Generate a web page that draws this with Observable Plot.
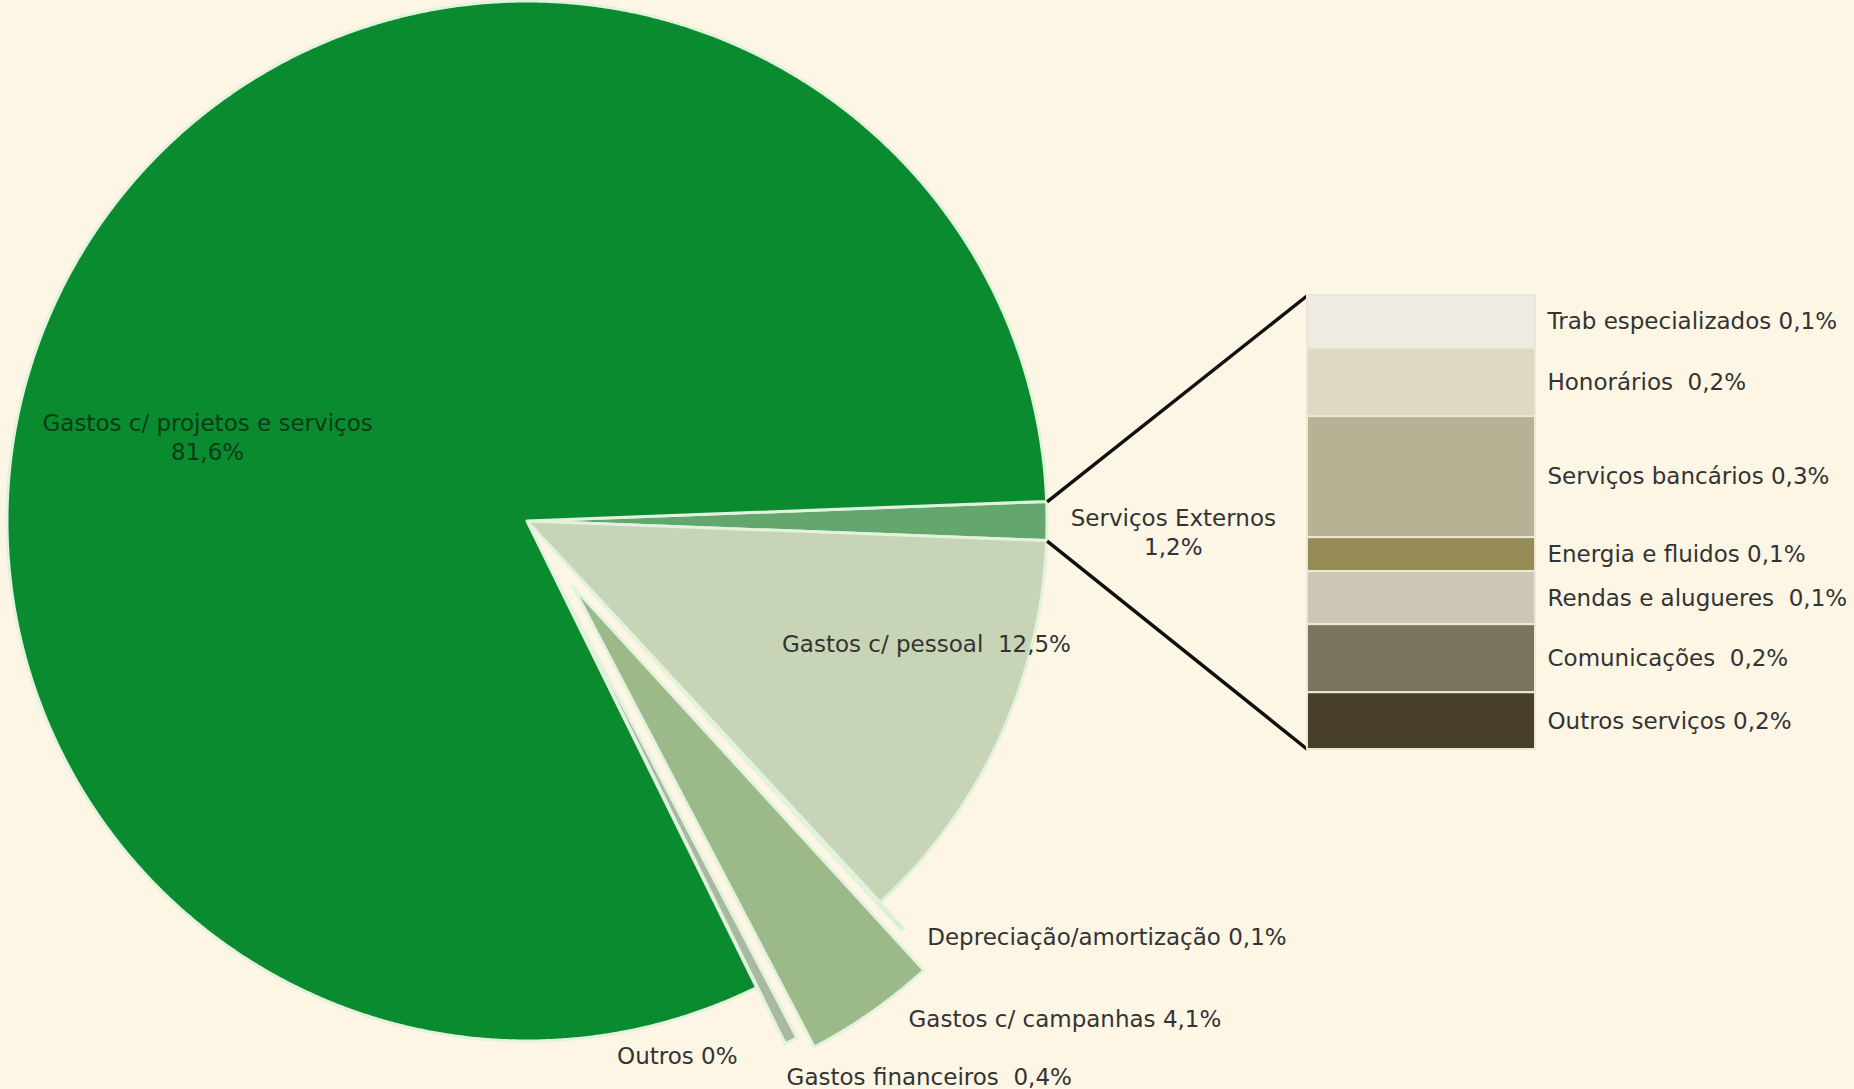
<!DOCTYPE html>
<html><head><meta charset="utf-8">
<script src="https://cdn.jsdelivr.net/npm/d3@7"></script>
<script src="https://cdn.jsdelivr.net/npm/@observablehq/plot@0.6"></script>
<style>
html,body{margin:0;padding:0;background:#FDF6E5;}
#chart{position:relative;width:1854px;height:1089px;overflow:hidden;}
#chart svg{position:absolute;left:0;top:0;background:transparent;max-width:none;}
svg text{white-space:pre;}
</style></head><body><div id="chart"></div>
<script>
// ---------- DATA ----------
const pieCategories = ["Serviços Externos","Gastos c/ pessoal","Depreciação/amortização","Gastos c/ campanhas","Gastos financeiros","Outros","Gastos c/ projetos e serviços"];
const pieValues = [1.2, 12.5, 0.1, 4.1, 0.4, 0, 81.6];
const pieLabelSeparators = ["\n", "  ", " ", " ", "  ", " ", "\n"];

const barCategories = ["Trab especializados","Honorários","Serviços bancários","Energia e fluidos","Rendas e alugueres","Comunicações","Outros serviços"];
const barValues = [0.14, 0.18, 0.32, 0.09, 0.14, 0.18, 0.15];   // sizes
const barShown  = [0.1, 0.2, 0.3, 0.1, 0.1, 0.2, 0.2];          // printed percentages
const barLabelSeparators = [" ", "  ", " ", " ", "  ", "  ", " "];

// ---------- STYLE / LAYOUT ----------
const W = 1854, H = 1089;
const CX = 527, CY = 521, R = 520;
const BAR_X0 = 1307, BAR_X1 = 1535, BAR_Y0 = 295, BAR_Y1 = 749;
const pieColors = ["#63A76F","#C7D4B5","#7E9E80","#9CB98A","#A9B8A0","#C9CFC0","#0B8B30"];
const pieExplode = [0, 0, 35, 80, 63, 63, 0];
const pieLabelLayout = [
  {f:1.242, dx:0,    dy:9.5, anchor:"middle"},
  {f:0.8,   dx:21,   dy:-52, anchor:"middle"},
  {f:1,     dx:24,   dy:5.5, anchor:"start"},
  {f:1,     dx:36.5, dy:5,   anchor:"start"},
  {f:1,     dx:-5,   dy:35,  anchor:"start"},
  {f:1,     dx:-47.5,dy:10,  anchor:"end"},
  {f:0.62,  dx:-43,  dy:80,  anchor:"middle"}
];
const barColors = ["#EEECE2","#DFD9C4","#B8B294","#958D55","#CCC6B4","#7A745F","#473F28"];
const FONT = "DejaVu Sans", FS = 23, TEXT = "#333333";
const fmt = v => String(v).replace(".", ",") + "%";

// ---------- PIE ----------
const total = d3.sum(pieValues);
const seSpan = pieValues[0] / total * 2 * Math.PI;
const a0 = Math.PI / 2 - seSpan / 2;
const arcs = d3.pie().sort(null).startAngle(a0).endAngle(a0 + 2 * Math.PI)(pieValues);

const wedgePoints = [];
const pieLabels = [];
arcs.forEach((a, i) => {
  const mid = (a.startAngle + a.endAngle) / 2;
  const e = pieExplode[i] / R;
  const ox = e * Math.sin(mid), oy = -e * Math.cos(mid);
  const L = pieLabelLayout[i];
  pieLabels.push({
    text: pieCategories[i] + pieLabelSeparators[i] + fmt(pieValues[i]),
    x: (e + L.f) * Math.sin(mid) + L.dx / R,
    y: -(e + L.f) * Math.cos(mid) + L.dy / R,
    anchor: L.anchor,
    color: i === 6 ? "#083C16" : TEXT
  });
  const span = a.endAngle - a.startAngle;
  if (span <= 0) return;
  const n = Math.max(2, Math.ceil(span / (Math.PI / 720)));
  for (let k = 0; k <= n; k++) {
    const t = a.startAngle + span * k / n;
    wedgePoints.push({slice: pieCategories[i], color: pieColors[i], x1: ox, y1: oy, x2: ox + Math.sin(t), y2: oy - Math.cos(t)});
  }
});

const toUX = px => (px - CX) / R, toUY = py => (py - CY) / R;
const seArc = arcs[0];
const connectors = [
  {x1: Math.sin(seArc.startAngle), y1: -Math.cos(seArc.startAngle), x2: toUX(BAR_X0), y2: toUY(BAR_Y0)},
  {x1: Math.sin(seArc.endAngle),   y1: -Math.cos(seArc.endAngle),   x2: toUX(BAR_X0), y2: toUY(BAR_Y1)}
];

const textMark = anchor => Plot.text(pieLabels.filter(d => d.anchor === anchor), {
  x: "x", y: "y", text: "text", fill: "color", textAnchor: anchor,
  fontSize: FS, fontFamily: FONT, lineHeight: 1.25
});

const piePlot = Plot.plot({
  width: W, height: H, margin: 0,
  style: {background: "transparent"},
  x: {domain: [toUX(0), toUX(W)], range: [0, W], axis: null},
  y: {domain: [toUY(0), toUY(H)], range: [0, H], axis: null},
  marks: [
    Plot.area(wedgePoints, {x1: "x1", y1: "y1", x2: "x2", y2: "y2", z: "slice", fill: "color",
      stroke: "#E2F2DC", strokeWidth: 3, strokeLinejoin: "round"}),
    Plot.link(connectors, {x1: "x1", y1: "y1", x2: "x2", y2: "y2", stroke: "#111111", strokeWidth: 3.5}),
    textMark("middle"), textMark("start"), textMark("end")
  ]
});

// ---------- BAR ----------
const barData = barCategories.map((c, i) => ({
  category: c, value: barValues[i], color: barColors[i],
  label: c + barLabelSeparators[i] + fmt(barShown[i])
}));
const group = pieCategories[0];
const barPlot = Plot.plot({
  width: W, height: H, margin: 0,
  style: {background: "transparent"},
  x: {type: "band", domain: [group], range: [BAR_X0, BAR_X1], padding: 0, axis: null},
  y: {domain: [0, d3.sum(barValues)], range: [BAR_Y0, BAR_Y1], axis: null},
  marks: [
    Plot.barY(barData, {x: () => group, y: "value", fill: "color", stroke: "#EDE8D6", strokeWidth: 2}),
    Plot.text(barData, Plot.stackY({x: () => group, y: "value", text: "label", textAnchor: "start",
      dx: (BAR_X1 - BAR_X0) / 2 + 12, fontSize: FS, fontFamily: FONT, fill: TEXT}))
  ]
});

const chart = document.getElementById("chart");
chart.appendChild(piePlot);
chart.appendChild(barPlot);
</script>
</body></html>
